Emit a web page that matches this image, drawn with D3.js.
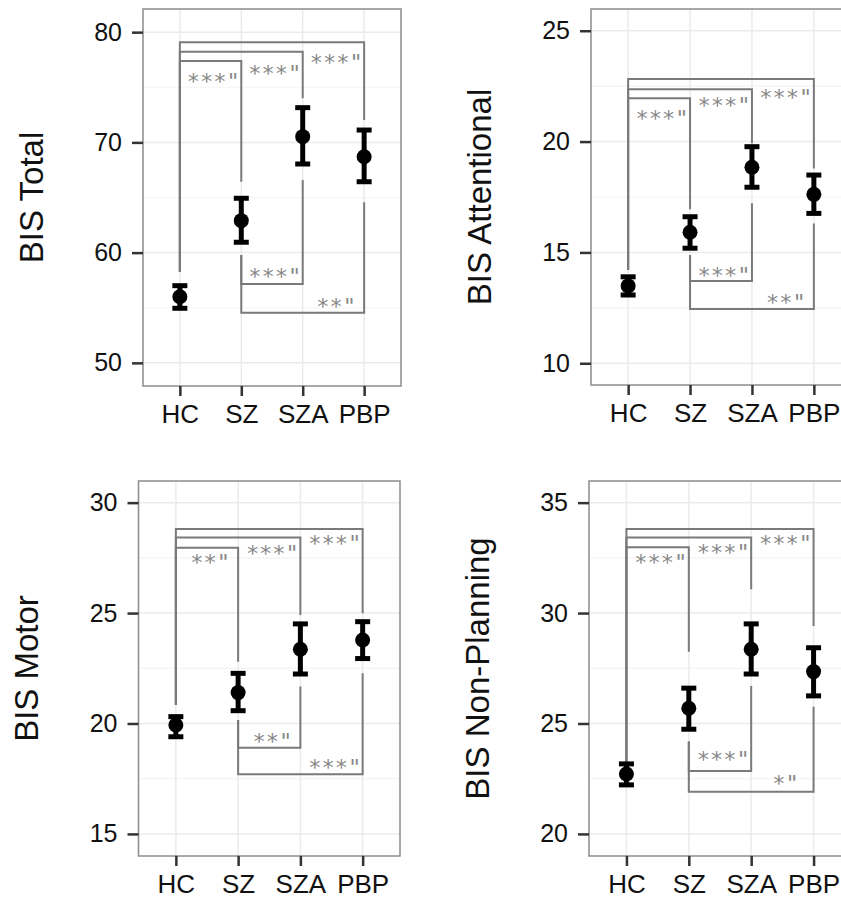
<!DOCTYPE html>
<html>
<head>
<meta charset="utf-8">
<script src="https://cdn.jsdelivr.net/npm/d3@7"></script>
<style>
  body { margin: 0; background: #fff; }
  svg { display: block; }
</style>
</head>
<body>
<div id="chart"></div>
<script>
const groups = ['HC', 'SZ', 'SZA', 'PBP']

// BIS Total
const totalMean = [56.0, 62.9, 70.52, 68.7]
const totalLow = [54.95, 60.94, 68.04, 66.43]
const totalHigh = [57.0, 64.93, 73.15, 71.12]
const totalTicks = [50, 60, 70, 80]
const totalMinor = [55, 65, 75]
const totalDomain = [47.9, 82.1]
// from, to, line level, from end, to end, label, label level
const totalBrackets = [
  ['HC', 'PBP', 79.08, 58.27, 72.03, '***"', 77.63],
  ['HC', 'SZA', 78.23, 58.27, 74.0, '***"', 76.57],
  ['HC', 'SZ', 77.38, 58.27, 66.43, '***"', 75.84],
  ['SZ', 'SZA', 57.15, 59.78, 66.59, '***"', 58.18],
  ['SZ', 'PBP', 54.55, 59.78, 64.57, '**"', 55.46]
]

// BIS Attentional
const attMean = [13.49, 15.91, 18.84, 17.62]
const attLow = [13.08, 15.19, 17.94, 16.76]
const attHigh = [13.9, 16.61, 19.77, 18.49]
const attTicks = [10, 15, 20, 25]
const attMinor = [12.5, 17.5, 22.5]
const attDomain = [9.02, 25.98]
const attBrackets = [
  ['HC', 'PBP', 22.82, 14.21, 18.79, '***"', 22.18],
  ['HC', 'SZA', 22.36, 14.21, 19.92, '***"', 21.8],
  ['HC', 'SZ', 21.95, 14.21, 16.945, '***"', 21.24],
  ['SZ', 'SZA', 13.71, 14.88, 17.22, '***"', 14.13],
  ['SZ', 'PBP', 12.45, 14.88, 16.31, '**"', 12.93]
]

// BIS Motor
const motorMean = [19.93, 21.4, 23.36, 23.78]
const motorLow = [19.4, 20.58, 22.24, 22.94]
const motorHigh = [20.31, 22.27, 24.51, 24.61]
const motorTicks = [15, 20, 25, 30]
const motorMinor = [17.5, 22.5, 27.5]
const motorDomain = [14.0, 30.98]
const motorBrackets = [
  ['HC', 'PBP', 28.81, 20.84, 24.99, '***"', 28.31],
  ['HC', 'SZA', 28.42, 20.84, 24.91, '***"', 27.89],
  ['HC', 'SZ', 27.96, 20.84, 22.8, '**"', 27.48],
  ['SZ', 'SZA', 18.9, 20.16, 21.67, '**"', 19.38],
  ['SZ', 'PBP', 17.7, 20.16, 22.27, '***"', 18.2]
]

// BIS Non-Planning
const nonMean = [22.71, 25.69, 28.36, 27.35]
const nonLow = [22.22, 24.74, 27.24, 26.25]
const nonHigh = [23.17, 26.6, 29.51, 28.43]
const nonTicks = [20, 25, 30, 35]
const nonMinor = [22.5, 27.5, 32.5]
const nonDomain = [19.0, 35.98]
const nonBrackets = [
  ['HC', 'PBP', 33.81, 23.23, 29.42, '***"', 33.34],
  ['HC', 'SZA', 33.42, 23.23, 31.08, '***"', 32.94],
  ['HC', 'SZ', 32.98, 23.23, 28.25, '***"', 32.48],
  ['SZ', 'SZA', 22.85, 24.18, 26.7, '***"', 23.53],
  ['SZ', 'PBP', 21.91, 24.18, 25.76, '*"', 22.44]
]

const panels = [
  { title: 'BIS Total', mean: totalMean, low: totalLow, high: totalHigh, ticks: totalTicks, minor: totalMinor, domain: totalDomain, brackets: totalBrackets,
    left: 143, top: 9, right: 401, bottom: 386 },
  { title: 'BIS Attentional', mean: attMean, low: attLow, high: attHigh, ticks: attTicks, minor: attMinor, domain: attDomain, brackets: attBrackets,
    left: 591, top: 9, right: 851, bottom: 385 },
  { title: 'BIS Motor', mean: motorMean, low: motorLow, high: motorHigh, ticks: motorTicks, minor: motorMinor, domain: motorDomain, brackets: motorBrackets,
    left: 138.5, top: 481, right: 400, bottom: 856 },
  { title: 'BIS Non-Planning', mean: nonMean, low: nonLow, high: nonHigh, ticks: nonTicks, minor: nonMinor, domain: nonDomain, brackets: nonBrackets,
    left: 589, top: 481, right: 851, bottom: 856 }
]

const svg = d3.select('#chart').append('svg')
  .attr('width', 841)
  .attr('height', 897)
  .style('background-color', '#ffffff')

const sans = '"Liberation Sans", Arial, sans-serif'

panels.forEach(function (p) {
  const x = d3.scalePoint().domain(groups).range([p.left, p.right]).padding(0.6)
  const y = d3.scaleLinear().domain(p.domain).range([p.bottom, p.top])
  const g = svg.append('g')

  // grid
  g.selectAll('.minor').data(p.minor).enter().append('line')
    .attr('x1', p.left).attr('x2', p.right)
    .attr('y1', function (d) { return y(d) }).attr('y2', function (d) { return y(d) })
    .attr('stroke', '#f4f4f4').attr('stroke-width', 1.2)
  g.selectAll('.major').data(p.ticks).enter().append('line')
    .attr('x1', p.left).attr('x2', p.right)
    .attr('y1', function (d) { return y(d) }).attr('y2', function (d) { return y(d) })
    .attr('stroke', '#ebebeb').attr('stroke-width', 1.5)
  g.selectAll('.vgrid').data(groups).enter().append('line')
    .attr('x1', function (d) { return x(d) }).attr('x2', function (d) { return x(d) })
    .attr('y1', p.top).attr('y2', p.bottom)
    .attr('stroke', '#ebebeb').attr('stroke-width', 1.5)

  // brackets
  const line = d3.line()
  g.selectAll('.bracket').data(p.brackets).enter().append('path')
    .attr('d', function (b) {
      return line([[x(b[0]), y(b[3])], [x(b[0]), y(b[2])], [x(b[1]), y(b[2])], [x(b[1]), y(b[4])]])
    })
    .attr('fill', 'none').attr('stroke', '#7a7a7a').attr('stroke-width', 2)

  g.selectAll('.star').data(p.brackets).enter().append('text')
    .attr('x', function (b) { return x(b[1]) - 28 })
    .attr('y', function (b) { return y(b[6]) })
    .attr('dy', '0.52em')
    .attr('text-anchor', 'middle')
    .style('font-family', '"DejaVu Sans Mono", monospace')
    .style('font-size', '22px')
    .attr('fill', '#888')
    .text(function (b) { return b[5] })

  // error bars and points
  const rows = groups.map(function (k, i) { return { k: k, m: p.mean[i], lo: p.low[i], hi: p.high[i] } })
  g.selectAll('.err').data(rows).enter().append('line')
    .attr('x1', function (d) { return x(d.k) }).attr('x2', function (d) { return x(d.k) })
    .attr('y1', function (d) { return y(d.lo) }).attr('y2', function (d) { return y(d.hi) })
    .attr('stroke', '#000').attr('stroke-width', 5)
  ;['lo', 'hi'].forEach(function (end) {
    g.selectAll('.cap-' + end).data(rows).enter().append('line')
      .attr('x1', function (d) { return x(d.k) - 7.5 }).attr('x2', function (d) { return x(d.k) + 7.5 })
      .attr('y1', function (d) { return y(d[end]) }).attr('y2', function (d) { return y(d[end]) })
      .attr('stroke', '#000').attr('stroke-width', 5)
  })
  g.selectAll('circle').data(rows).enter().append('circle')
    .attr('cx', function (d) { return x(d.k) })
    .attr('cy', function (d) { return y(d.m) })
    .attr('r', 7.5)
    .attr('fill', '#000')

  // panel border
  g.append('rect')
    .attr('x', p.left).attr('y', p.top)
    .attr('width', p.right - p.left).attr('height', p.bottom - p.top)
    .attr('fill', 'none').attr('stroke', '#8c8c8c').attr('stroke-width', 1.5)

  // axes
  const ya = g.append('g').attr('transform', 'translate(' + p.left + ',0)')
    .call(d3.axisLeft(y).tickValues(p.ticks).tickSize(11).tickPadding(10))
  const xa = g.append('g').attr('transform', 'translate(0,' + p.bottom + ')')
    .call(d3.axisBottom(x).tickSize(10).tickPadding(9))
  ;[ya, xa].forEach(function (a) {
    a.select('.domain').remove()
    a.selectAll('.tick line').attr('stroke', '#333').attr('stroke-width', 2.5)
    a.selectAll('.tick text').style('font-family', sans).style('font-size', '25px').attr('fill', '#111')
  })
  xa.selectAll('.tick text').style('font-size', '26px')

  g.append('text')
    .attr('transform', 'translate(' + (p.left - 112) + ',' + ((p.top + p.bottom) / 2) + ') rotate(-90)')
    .attr('text-anchor', 'middle')
    .attr('dy', '0.36em')
    .style('font-family', sans)
    .style('font-size', '33px')
    .attr('fill', '#111')
    .text(p.title)
})
</script>
</body>
</html>
